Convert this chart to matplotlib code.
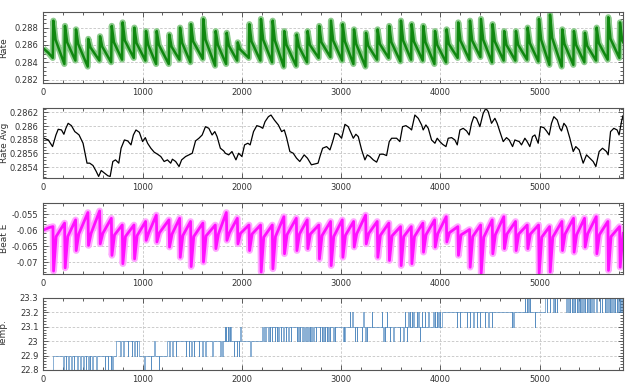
import matplotlib
matplotlib.use('Agg')
import matplotlib.pyplot as plt
from matplotlib.ticker import MultipleLocator, FuncFormatter
from bisect import bisect_right

# cycle event times (sharp rate peak / beat E drop)
cycle_t = [101, 218, 329, 453, 571, 689, 799, 917, 1034, 1142,
           1269, 1377, 1487, 1611, 1736, 1847, 1958, 2075, 2192, 2310,
           2427, 2552, 2662, 2779, 2897, 3015, 3129, 3250, 3367, 3484,
           3602, 3710, 3827, 3945, 4062, 4179, 4297, 4408, 4525, 4642,
           4760, 4878, 4992, 5103, 5227, 5344, 5455, 5573, 5690, 5808]

# Rate: peak, value shortly after the peak, low just before the peak
rate_peak = [.2888, .2882, .2878, .2867, .2870, .2882, .2886, .2880, .2876, .2876,
             .2872, .2880, .2884, .2890, .2876, .2874, .2863, .2884, .2890, .2888,
             .2876, .2872, .2876, .2882, .2888, .2884, .2878, .2874, .2878, .2882,
             .2888, .2884, .2882, .2876, .2878, .2886, .2888, .2890, .2884, .2876,
             .2876, .2880, .2890, .2895, .2878, .2876, .2874, .2880, .2892, .2886]
rate_knee = [.2866, .2863, .2861, .2857, .2858, .2863, .2865, .2862, .2860, .2860,
             .2858, .2862, .2864, .2866, .2860, .2859, .2855, .2864, .2866, .2865,
             .2860, .2858, .2860, .2863, .2865, .2864, .2861, .2859, .2861, .2863,
             .2865, .2864, .2863, .2860, .2861, .2865, .2865, .2866, .2864, .2860,
             .2860, .2862, .2866, .2868, .2861, .2860, .2859, .2862, .2867, .2865]
rate_low = [.2845, .2838, .2842, .2835, .2842, .2840, .2843, .2845, .2842, .2838,
            .2838, .2843, .2840, .2844, .2836, .2838, .2842, .2845, .2842, .2840,
            .2835, .2836, .2840, .2845, .2846, .2842, .2838, .2835, .2843, .2845,
            .2841, .2843, .2842, .2838, .2840, .2845, .2843, .2846, .2840, .2842,
            .2842, .2843, .2841, .2837, .2835, .2837, .2840, .2842, .2843, .2845]

# Rate Avg trace
avg_t = [7, 50, 93, 127, 150, 183, 207, 227, 250, 283, 317, 340, 360, 400, 440, 467,
         500, 533, 557, 583, 617, 650, 673, 700, 727, 760, 783, 817, 850, 883, 907,
         933, 967, 1000, 1027, 1050, 1083, 1117, 1150, 1183, 1217, 1250, 1283, 1300,
         1333, 1367, 1393, 1433, 1467, 1500, 1533, 1567, 1600, 1633, 1667, 1700, 1727,
         1750, 1783, 1817, 1833, 1867, 1900, 1940, 1967, 2000, 2027, 2060, 2083, 2117,
         2150, 2183, 2210, 2233, 2267, 2293, 2327, 2367, 2400, 2427, 2450, 2483, 2517,
         2550, 2583, 2627, 2660, 2700, 2767, 2786, 2813, 2853, 2887, 2914, 2937, 2971,
         3004, 3038, 3071, 3105, 3122, 3148, 3172, 3206, 3239, 3263, 3289, 3323, 3357,
         3390, 3424, 3457, 3484, 3508, 3558, 3591, 3618, 3652, 3692, 3709, 3742, 3776,
         3810, 3826, 3853, 3877, 3910, 3944, 3967, 3994, 4021, 4055, 4078, 4112, 4145,
         4169, 4196, 4229, 4263, 4289, 4313, 4336, 4363, 4397, 4430, 4457, 4481, 4514,
         4548, 4571, 4598, 4632, 4665, 4692, 4726, 4749, 4793, 4816, 4850, 4873, 4900,
         4927, 4951, 4984, 5008, 5041, 5068, 5095, 5118, 5142, 5176, 5202, 5219, 5243,
         5269, 5303, 5337, 5363, 5397, 5437, 5471, 5504, 5538, 5565, 5598, 5632, 5672,
         5689, 5713, 5746, 5779, 5799, 5823, 5838]
avg_v = [.285822, .285797, .285700, .285870, .285953, .285943, .285880, .285967, .286040,
         .286006, .285919, .285894, .285870, .285749, .285458, .285458, .285424, .285337,
         .285264, .285351, .285312, .285274, .285264, .285482, .285506, .285458, .285676,
         .285797, .285783, .285725, .285870, .285943, .285909, .285773, .285831, .285749,
         .285676, .285618, .285589, .285555, .285482, .285506, .285458, .285516, .285482,
         .285409, .285506, .285555, .285579, .285603, .285783, .285822, .285870, .285991,
         .285967, .285870, .285919, .285846, .285676, .285637, .285603, .285579, .285628,
         .285506, .285603, .285555, .285725, .285749, .285725, .285919, .286006, .285991,
         .285967, .286064, .286137, .286161, .286088, .286016, .285919, .285943, .285831,
         .285628, .285603, .285531, .285482, .285579, .285531, .285434, .285458, .285555,
         .285676, .285700, .285652, .285773, .285894, .285880, .285822, .286025, .285991,
         .285880, .285822, .285880, .285846, .285652, .285506, .285579, .285555, .285506,
         .285473, .285589, .285589, .285569, .285773, .285822, .285822, .285773, .285991,
         .286006, .285967, .285943, .286161, .286113, .286016, .285943, .286016, .285967,
         .285797, .285749, .285822, .285773, .285734, .285700, .285822, .285831, .285797,
         .285725, .285943, .285967, .285928, .285870, .286040, .286137, .286113, .285991,
         .286185, .286258, .286210, .286040, .286113, .286040, .285919, .285773, .285831,
         .285797, .285700, .285797, .285773, .285725, .285822, .285773, .285700, .285846,
         .285870, .285749, .285991, .285977, .285928, .285870, .286040, .286137, .286088,
         .285967, .285928, .286040, .285991, .285822, .285628, .285700, .285652, .285458,
         .285579, .285531, .285482, .285409, .285628, .285676, .285628, .285579, .285919,
         .285967, .285943, .285870, .286064, .286150]

# Beat E: value before the drop, drop minimum, value after recovery
beat_end = [-.0589, -.0578, -.0568, -.0545, -.0540, -.0563, -.0584, -.0584, -.0573, -.0553,
            -.0568, -.0563, -.0573, -.0578, -.0584, -.0545, -.0563, -.0584, -.0584, -.0584,
            -.0558, -.0563, -.0568, -.0584, -.0573, -.0568, -.0573, -.0553, -.0573, -.0578,
            -.0589, -.0589, -.0578, -.0568, -.0558, -.0589, -.0598, -.0584, -.0568, -.0558,
            -.0573, -.0584, -.0584, -.0589, -.0573, -.0563, -.0563, -.0558, -.0573, -.0589]
beat_min = [-.0728, -.0718, -.0664, -.0648, -.0643, -.0679, -.0705, -.0690, -.0632, -.0637,
            -.0653, -.0685, -.0714, -.0700, -.0658, -.0632, -.0643, -.0664, -.0731, -.0721,
            -.0674, -.0664, -.0658, -.0690, -.0711, -.0685, -.0653, -.0643, -.0685, -.0695,
            -.0711, -.0705, -.0669, -.0653, -.0637, -.0679, -.0716, -.0735, -.0674, -.0658,
            -.0664, -.0658, -.0735, -.0731, -.0664, -.0669, -.0653, -.0674, -.0726, -.0716]
beat_knee = [-.0620, -.0620, -.0612, -.0610, -.0610, -.0615, -.0620, -.0617, -.0608, -.0608,
             -.0612, -.0617, -.0620, -.0618, -.0612, -.0608, -.0610, -.0612, -.0622, -.0620,
             -.0614, -.0612, -.0612, -.0617, -.0620, -.0616, -.0611, -.0610, -.0616, -.0618,
             -.0620, -.0620, -.0614, -.0611, -.0608, -.0615, -.0620, -.0622, -.0614, -.0612,
             -.0612, -.0612, -.0622, -.0622, -.0612, -.0614, -.0611, -.0614, -.0620, -.0620]

# Temp.: base level changes and short excursions (start times by level)
temp_base_t = [0, 100, 735, 967, 1250, 2200, 4011, 5051]
temp_base_v = [22.8, 22.9, 23.0, 22.9, 23.0, 23.1, 23.2, 23.3]
temp_blips = {
    22.8: [200, 227, 250, 283, 307, 340, 373, 400, 427, 450, 467, 493, 533, 617, 650,
           677, 693, 1017, 1083, 1160],
    22.9: [773, 807, 850, 893, 917, 940, 1267, 1300, 1333, 1433, 1467, 1490, 1517, 1567,
           1600, 1633, 1700, 1783, 1800, 1920, 1950, 1967, 2083],
    23.0: [1115, 2217, 2233, 2267, 2283, 2300, 2333, 2350, 2367, 2393, 2417, 2440, 2467,
           2493, 2550, 2567, 2583, 2607, 2627, 2650, 2667, 2683, 2700, 2717, 2745, 2786,
           2803, 2820, 2836, 2853, 2870, 2887, 2920, 2937, 3021, 3030, 3138, 3155, 3205,
           3240, 3256, 3424, 3440, 3491, 3524, 3591, 3625, 3659, 3793],
    23.1: [1827, 1838, 1860, 1872, 1885, 1983, 4162, 4196, 4263, 4296, 4330, 4363, 4397,
           4447, 4481, 4514, 4716, 4732, 4951],
    23.2: [3088, 3112, 3222, 3306, 3407, 3457, 3642, 3676, 3693, 3709, 3726, 3760, 3776,
           3810, 3843, 3877, 3927, 3944, 3960, 3977, 3994, 5068, 5101, 5135, 5152, 5169,
           5269, 5286, 5303, 5320, 5336, 5353, 5370, 5387, 5404, 5420, 5437, 5454, 5471,
           5488, 5504, 5521, 5538, 5571, 5605, 5622, 5655, 5672, 5689, 5706, 5722, 5739,
           5756, 5773, 5790, 5806, 5823],
    23.3: [4850, 4867, 4884, 4900],
}
blip_len = 5
x_end = 5840

# build the Rate polyline
rx, ry = [0, 50], [.2856, .2851]
for t, lo, hi, kn in zip(cycle_t, rate_low, rate_peak, rate_knee):
    rx += [t - 6, t, t + 22]
    ry += [lo, hi, kn]
rx.append(x_end)
ry.append(.2863)

# build the Beat E polyline
bx, by = [0, 60], [-.0600, -.0592]
for t, en, mn, kn in zip(cycle_t, beat_end, beat_min, beat_knee):
    bx += [t - 4, t + 2, t + 28]
    by += [en, mn, kn]
bx.append(x_end)
by.append(-.0610)

# build the Temp. step series
events = list(zip(temp_base_t, temp_base_v))
for lev, starts in temp_blips.items():
    for s in starts:
        back = temp_base_v[bisect_right(temp_base_t, s + blip_len) - 1]
        events += [(s, lev), (s + blip_len, back)]
events.sort()
tx = [e[0] for e in events] + [x_end]
tv = [e[1] for e in events] + [events[-1][1]]

fig = plt.figure(figsize=(6.4, 3.88), dpi=100)
rects = [(0.0677, 0.786, 0.906, 0.183), (0.0677, 0.541, 0.906, 0.180),
         (0.0677, 0.294, 0.906, 0.183), (0.0677, 0.0464, 0.906, 0.1856)]
axs = [fig.add_axes(r) for r in rects]

axs[0].plot(rx, ry, color='#8ccb8c', lw=4.4, solid_joinstyle='round', solid_capstyle='butt')
axs[0].plot(rx, ry, color='#108810', lw=1.8, solid_joinstyle='round')
axs[1].plot(avg_t, avg_v, color='black', lw=0.9)
axs[2].plot(bx, by, color='#ffa8ff', lw=4.8, solid_joinstyle='round', solid_capstyle='butt')
axs[2].plot(bx, by, color='#ff10ff', lw=2.0, solid_joinstyle='round')
axs[3].plot(tx, tv, color='#3d7cb8', lw=0.5, alpha=0.85, drawstyle='steps-post')

ylims = [(0.2816, 0.2898), (0.28524, 0.28626), (-0.0737, -0.0515), (22.8, 23.3)]
majors = [0.002, 0.0002, 0.005, 0.1]
minors = [0.0005, 0.00005, 0.001, 0.02]
labels = ['Rate', 'Rate Avg', 'Beat E', 'Temp.']

for ax, yl, mj, mn, lab in zip(axs, ylims, majors, minors, labels):
    ax.set_xlim(0, x_end)
    ax.set_ylim(*yl)
    ax.xaxis.set_major_locator(MultipleLocator(1000))
    ax.xaxis.set_minor_locator(MultipleLocator(200))
    ax.yaxis.set_major_locator(MultipleLocator(mj))
    ax.yaxis.set_minor_locator(MultipleLocator(mn))
    ax.yaxis.set_major_formatter(FuncFormatter(lambda v, p: '%g' % round(v, 6)))
    ax.tick_params(which='both', direction='in', top=True, right=True,
                   labelsize=6, labelcolor='#333333', color='#444444', width=0.6)
    ax.tick_params(which='major', length=3.5, pad=3.5)
    ax.tick_params(which='minor', length=2)
    ax.grid(True, which='major', color='#c4c4c4', linestyle=(0, (3, 2)), lw=0.6)
    for s in ax.spines.values():
        s.set_color('#555555')
        s.set_linewidth(0.8)
    ax.set_ylabel(lab, fontsize=6.5, color='#333333')
    ax.yaxis.set_label_coords(-0.06, 0.5)

fig.savefig('out.png', dpi=100)
